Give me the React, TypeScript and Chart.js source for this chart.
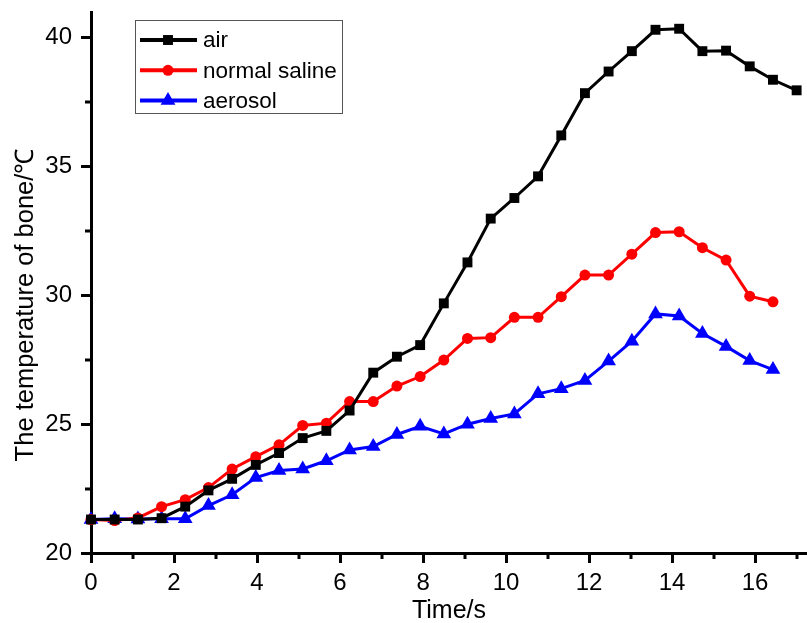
import React, { useEffect, useRef } from 'react';
import { Chart, registerables } from 'chart.js';

Chart.register(...registerables);

// ---- data ----
const times = [0, 0.57, 1.13, 1.7, 2.27, 2.83, 3.4, 3.97, 4.53, 5.1, 5.67, 6.23, 6.8, 7.37, 7.93, 8.5, 9.07, 9.63, 10.2, 10.77, 11.33, 11.9, 12.47, 13.03, 13.6, 14.17, 14.73, 15.3, 15.87, 16.43, 17.0];
const airTemps = [21.3, 21.3, 21.3, 21.35, 21.8, 22.43, 22.88, 23.42, 23.88, 24.46, 24.74, 25.53, 27.0, 27.62, 28.07, 29.69, 31.28, 32.98, 33.78, 34.62, 36.21, 37.85, 38.69, 39.48, 40.31, 40.35, 39.48, 39.5, 38.89, 38.37, 37.96];
const salineTemps = [21.3, 21.26, 21.36, 21.8, 22.07, 22.54, 23.26, 23.74, 24.2, 24.95, 25.04, 25.88, 25.88, 26.48, 26.85, 27.49, 28.33, 28.36, 29.15, 29.15, 29.95, 30.79, 30.79, 31.6, 32.44, 32.47, 31.85, 31.37, 29.97, 29.75];
const aerosolTemps = [21.3, 21.33, 21.32, 21.33, 21.33, 21.84, 22.26, 22.93, 23.2, 23.26, 23.58, 24.0, 24.13, 24.6, 24.92, 24.62, 25.0, 25.22, 25.4, 26.18, 26.38, 26.7, 27.45, 28.22, 29.28, 29.2, 28.52, 28.02, 27.47, 27.12];
const seriesLabels = ['air', 'normal saline', 'aerosol'];
const xMinorTicks = [1, 3, 5, 7, 9, 11, 13, 15, 17];
const yMinorTicks = [22.5, 27.5, 32.5, 37.5];
const xTitle = 'Time/s';
const yTitle = 'The temperature of bone/℃';

const FONT = '"Liberation Sans", Arial, sans-serif';

function toPoints(ys: number[]) {
  return ys.map((y, i) => ({ x: times[i], y }));
}

function drawMarker(ctx: CanvasRenderingContext2D, style: string, x: number, y: number, r: number, color: string) {
  ctx.fillStyle = color;
  ctx.beginPath();
  if (style === 'rect') {
    const s = Math.SQRT1_2 * r;
    ctx.rect(x - s, y - s, 2 * s, 2 * s);
  } else if (style === 'triangle') {
    ctx.moveTo(x, y - r);
    ctx.lineTo(x + r * Math.sin(2 * Math.PI / 3), y - r * Math.cos(2 * Math.PI / 3));
    ctx.lineTo(x + r * Math.sin(4 * Math.PI / 3), y - r * Math.cos(4 * Math.PI / 3));
    ctx.closePath();
  } else {
    ctx.arc(x, y, r, 0, Math.PI * 2);
  }
  ctx.fill();
}

const minorTickPlugin = {
  id: 'minorTicks',
  beforeDatasetsDraw(chart: any) {
    const ctx = chart.ctx;
    const xs = chart.scales.x;
    const ys = chart.scales.y;
    const area = chart.chartArea;
    ctx.save();
    ctx.strokeStyle = '#000';
    ctx.lineWidth = 3;
    ctx.beginPath();
    xMinorTicks.forEach((v) => {
      const px = Math.round(xs.getPixelForValue(v));
      if (px > area.right + 1) return;
      ctx.moveTo(px, area.bottom);
      ctx.lineTo(px, area.bottom + 6);
    });
    yMinorTicks.forEach((v) => {
      const py = Math.round(ys.getPixelForValue(v));
      ctx.moveTo(area.left, py);
      ctx.lineTo(area.left - 6, py);
    });
    ctx.stroke();
    ctx.restore();
  },
};

const yTitlePlugin = {
  id: 'yTitle',
  afterDraw(chart: any) {
    const ctx = chart.ctx;
    const area = chart.chartArea;
    ctx.save();
    ctx.translate(33, area.bottom - 248);
    ctx.rotate(-Math.PI / 2);
    ctx.font = `25.5px ${FONT}`;
    ctx.fillStyle = '#000';
    ctx.textAlign = 'center';
    ctx.textBaseline = 'alphabetic';
    ctx.fillText(yTitle, 0, 0);
    ctx.restore();
  },
};

const legendPlugin = {
  id: 'boxLegend',
  afterDraw(chart: any) {
    const ctx = chart.ctx;
    const left = 135, top = 20, w = 207, h = 93;
    ctx.save();
    ctx.fillStyle = '#fff';
    ctx.fillRect(left, top, w, h);
    ctx.strokeStyle = '#555';
    ctx.lineWidth = 1;
    ctx.strokeRect(left + 0.5, top + 0.5, w, h);
    chart.data.datasets.forEach((ds: any, i: number) => {
      const cy = 40 + i * 30.3;
      ctx.strokeStyle = ds.borderColor;
      ctx.lineWidth = 4;
      ctx.beginPath();
      ctx.moveTo(140, cy);
      ctx.lineTo(197, cy);
      ctx.stroke();
      drawMarker(ctx, ds.pointStyle, 168, cy, ds.pointRadius, ds.borderColor);
      ctx.fillStyle = '#000';
      ctx.font = `22.5px ${FONT}`;
      ctx.textAlign = 'left';
      ctx.textBaseline = 'middle';
      ctx.fillText(ds.label, 203, cy + 1);
    });
    ctx.restore();
  },
};

export default function App() {
  const canvasRef = useRef<HTMLCanvasElement | null>(null);

  useEffect(() => {
    document.body.style.margin = '0';
    const canvas = canvasRef.current;
    if (!canvas) return;
    const tickFont = { family: FONT, size: 24 };
    const chart = new Chart(canvas, {
      type: 'line',
      data: {
        datasets: [
          {
            label: seriesLabels[0],
            data: toPoints(airTemps),
            borderColor: '#000000',
            backgroundColor: '#000000',
            borderWidth: 3,
            pointStyle: 'rect',
            pointRadius: 7,
            pointBorderWidth: 0,
            tension: 0,
            clip: false as any,
          },
          {
            label: seriesLabels[1],
            data: toPoints(salineTemps),
            borderColor: '#ff0000',
            backgroundColor: '#ff0000',
            borderWidth: 3,
            pointStyle: 'circle',
            pointRadius: 5.5,
            pointBorderWidth: 0,
            tension: 0,
            clip: false as any,
          },
          {
            label: seriesLabels[2],
            data: toPoints(aerosolTemps),
            borderColor: '#0000ff',
            backgroundColor: '#0000ff',
            borderWidth: 3,
            pointStyle: 'triangle',
            pointRadius: 8.5,
            pointBorderWidth: 0,
            tension: 0,
            clip: false as any,
          },
        ],
      },
      options: {
        responsive: false,
        animation: false,
        layout: { autoPadding: false, padding: { top: 12, right: 0, bottom: 0, left: 0 } },
        plugins: {
          legend: { display: false },
          tooltip: { enabled: false },
        },
        scales: {
          x: {
            type: 'linear',
            min: 0,
            max: 17.25,
            afterFit(s: any) {
              s.height = 70;
              s.paddingLeft = 0;
              s.paddingRight = 0;
            },
            ticks: {
              stepSize: 2,
              includeBounds: false,
              autoSkip: false,
              maxRotation: 0,
              color: '#000',
              font: tickFont,
              padding: 6,
            },
            grid: {
              drawOnChartArea: false,
              drawTicks: true,
              tickLength: 10,
              tickWidth: 3,
              tickColor: '#000',
            },
            border: { display: true, color: '#000', width: 3 },
            title: {
              display: true,
              text: xTitle,
              color: '#000',
              font: { family: FONT, size: 25 },
              padding: { top: 0, bottom: -3 },
            },
          },
          y: {
            type: 'linear',
            min: 20,
            max: 41,
            afterFit(s: any) {
              s.width = 91;
              s.paddingTop = 0;
              s.paddingBottom = 0;
            },
            ticks: {
              stepSize: 5,
              includeBounds: false,
              color: '#000',
              font: tickFont,
              padding: 9,
            },
            grid: {
              drawOnChartArea: false,
              drawTicks: true,
              tickLength: 10,
              tickWidth: 3,
              tickColor: '#000',
            },
            border: { display: true, color: '#000', width: 3 },
            title: { display: false },
          },
        },
      } as any,
      plugins: [minorTickPlugin, yTitlePlugin, legendPlugin],
    });
    return () => chart.destroy();
  }, []);

  return (
    <div style={{ width: 807, height: 623, background: '#fff' }}>
      <canvas ref={canvasRef} width={807} height={623} style={{ display: 'block' }} />
    </div>
  );
}
